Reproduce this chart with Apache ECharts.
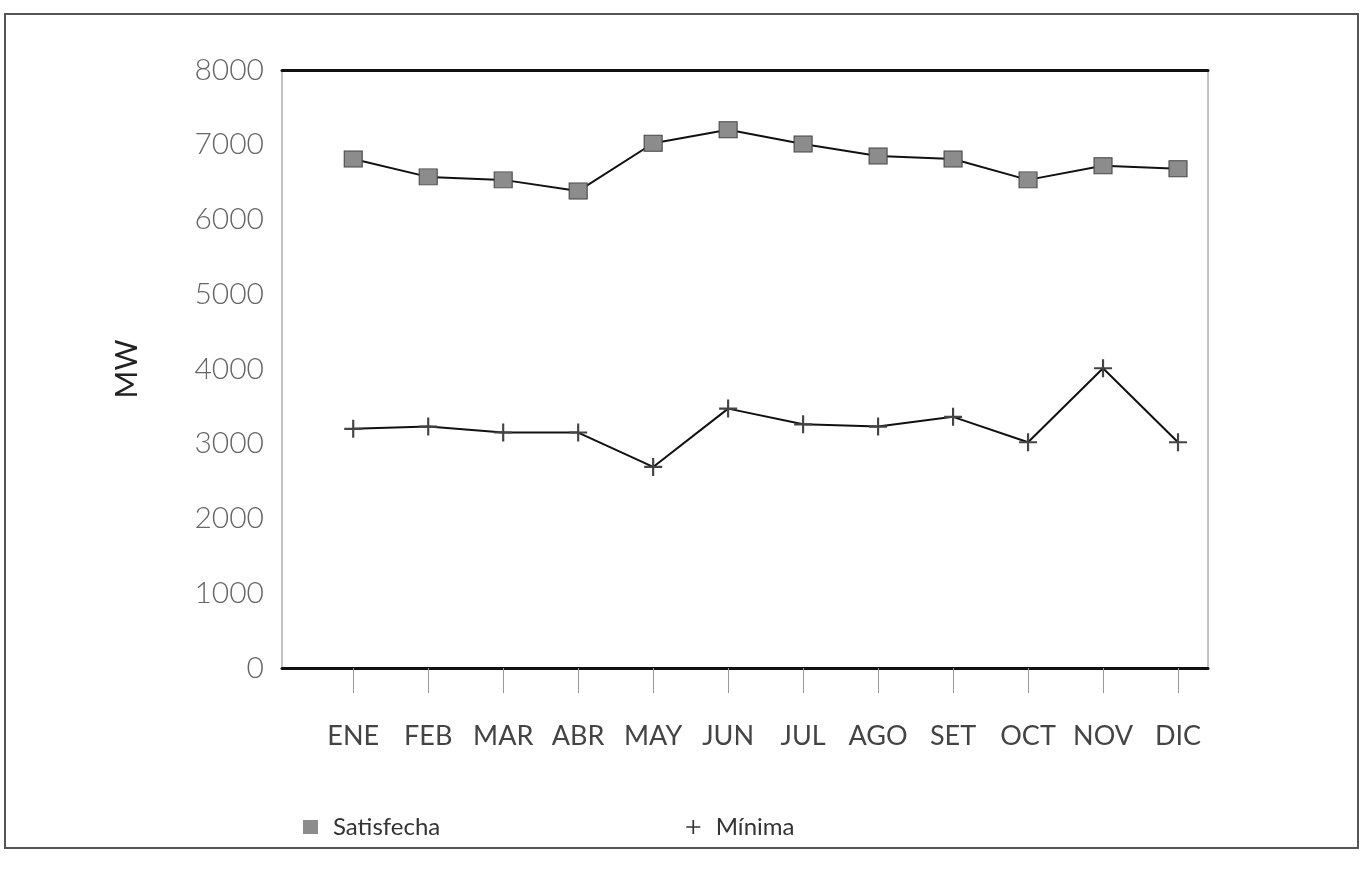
<!DOCTYPE html>
<html>
<head>
<meta charset="utf-8">
<script src="https://cdn.jsdelivr.net/npm/echarts@6/dist/echarts.min.js"></script>
<style>
  html, body { margin: 0; padding: 0; background: #fff; }
  #chart { width: 1363px; height: 878px; }
</style>
</head>
<body>
<div id="chart"></div>
<script>
const months = ['ENE', 'FEB', 'MAR', 'ABR', 'MAY', 'JUN', 'JUL', 'AGO', 'SET', 'OCT', 'NOV', 'DIC']
const satisfecha = [6810, 6570, 6530, 6380, 7020, 7200, 7010, 6850, 6810, 6530, 6720, 6680]
const minima = [3200, 3230, 3150, 3150, 2690, 3470, 3260, 3230, 3360, 3020, 4010, 3020]
const yTicks = [0, 1000, 2000, 3000, 4000, 5000, 6000, 7000, 8000]

const plusIcon = 'path://M4.4,0h1.2v4.4h4.4v1.2h-4.4v4.4h-1.2v-4.4h-4.4v-1.2h4.4z'
const monthIdx = months.map((m, i) => i)
const font = 'Lato, "Open Sans", sans-serif'

const chart = echarts.init(document.getElementById('chart'))
const option = {
  animation: false,
  backgroundColor: '#fff',
  graphic: [{
    type: 'rect',
    shape: { x: 5, y: 14, width: 1353, height: 834 },
    style: { fill: 'none', stroke: '#555', lineWidth: 2 },
    silent: true
  }],
  grid: {
    left: 282,
    right: 155,
    top: 70,
    bottom: 210,
    show: true,
    borderColor: '#888',
    borderWidth: 1
  },
  legend: {
    left: 298,
    top: 810,
    itemGap: 246,
    itemWidth: 15,
    itemHeight: 14,
    textStyle: { fontFamily: font, fontSize: 24, color: '#333', padding: [0, 0, 0, 10] },
    data: [
      { name: 'Satisfecha', icon: 'rect', itemStyle: { color: '#8c8c8c', borderWidth: 0 } },
      { name: 'Mínima', icon: plusIcon, itemStyle: { color: '#333' } }
    ]
  },
  xAxis: [{
    type: 'value',
    min: -0.95,
    max: 11.4,
    splitLine: { show: false },
    axisLine: { show: true, lineStyle: { color: '#111', width: 3 } },
    axisTick: {
      show: true,
      customValues: monthIdx,
      length: 25,
      lineStyle: { color: '#999', width: 1 }
    },
    axisLabel: {
      customValues: monthIdx,
      margin: 55,
      fontFamily: font,
      fontSize: 27,
      color: '#444',
      formatter: v => months[Math.round(v)] || ''
    }
  }, {
    type: 'value',
    position: 'top',
    min: -0.95,
    max: 11.4,
    splitLine: { show: false },
    axisLine: { show: true, lineStyle: { color: '#111', width: 3 } },
    axisTick: { show: false },
    axisLabel: { show: false }
  }],
  yAxis: {
    type: 'value',
    min: yTicks[0],
    max: yTicks[yTicks.length - 1],
    interval: 1000,
    name: 'MW',
    nameLocation: 'middle',
    nameGap: 140,
    nameTextStyle: { fontFamily: font, fontSize: 30, color: '#222' },
    splitLine: { show: false },
    axisLine: { show: false },
    axisTick: { show: false },
    axisLabel: {
      margin: 18,
      fontFamily: font,
      fontSize: 30,
      fontWeight: 300,
      color: '#666',
      formatter: v => String(v)
    }
  },
  series: [{
    name: 'Satisfecha',
    type: 'line',
    data: satisfecha.map((v, i) => [i, v]),
    symbol: 'rect',
    symbolSize: [18, 16],
    itemStyle: { color: '#8c8c8c', borderColor: '#444', borderWidth: 1 },
    lineStyle: { color: '#111', width: 2 },
    z: 3
  }, {
    name: 'Mínima',
    type: 'line',
    data: minima.map((v, i) => [i, v]),
    symbol: plusIcon,
    symbolSize: 18,
    itemStyle: { color: '#444' },
    lineStyle: { color: '#111', width: 2 },
    z: 3
  }]
}
chart.setOption(option)
</script>
</body>
</html>
